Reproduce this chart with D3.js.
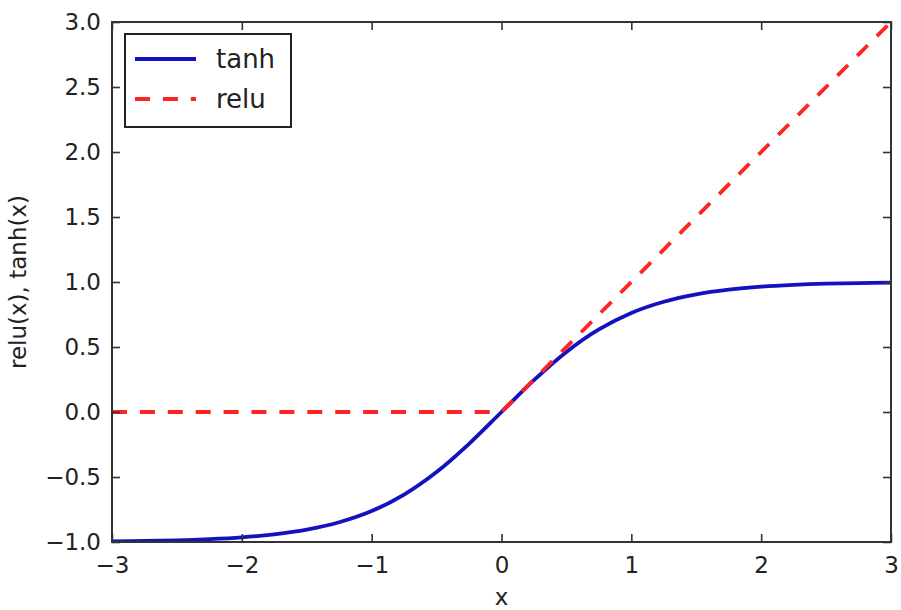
<!DOCTYPE html>
<html>
<head>
<meta charset="utf-8">
<script src="https://cdn.jsdelivr.net/npm/d3@7"></script>
<style>
  html, body { margin: 0; padding: 0; background: #fff; }
  svg { display: block; }
  text { font-family: "DejaVu Sans", sans-serif; fill: #222; }
</style>
</head>
<body>
<svg id="chart" width="901" height="610"></svg>
<script>
// ---- data ----
const tanhX = [-3, -2.75, -2.5, -2.25, -2, -1.75, -1.5, -1.25, -1, -0.75, -0.5, -0.25, 0,
               0.25, 0.5, 0.75, 1, 1.25, 1.5, 1.75, 2, 2.25, 2.5, 2.75, 3];
const tanhY = [-0.995, -0.992, -0.987, -0.978, -0.964, -0.941, -0.905, -0.848, -0.762, -0.635, -0.462, -0.245, 0,
               0.245, 0.462, 0.635, 0.762, 0.848, 0.905, 0.941, 0.964, 0.978, 0.987, 0.992, 0.995];
const reluX = [-3, 0, 3];
const reluY = [0, 0, 3];
const xTicks = [-3, -2, -1, 0, 1, 2, 3];
const yTicks = [-1.0, -0.5, 0.0, 0.5, 1.0, 1.5, 2.0, 2.5, 3.0];
const seriesNames = ["tanh", "relu"];

const svg = d3.select("#chart");
const L = 112, R = 891, T = 22, B = 542;
const x = d3.scaleLinear().domain([-3, 3]).range([L, R]);
const y = d3.scaleLinear().domain([-1, 3]).range([B, T]);

const fmtX = d => d3.format("d")(d).replace("-", "\u2212");
const fmtY = d => d3.format(".1f")(d).replace("-", "\u2212");
const tickLen = 8, fs = 23;

// lines (clipped to plot)
svg.append("clipPath").attr("id", "clip").append("rect")
  .attr("x", L).attr("y", T).attr("width", R - L).attr("height", B - T);
const g = svg.append("g").attr("clip-path", "url(#clip)");

const tanhData = tanhX.map((v, i) => [v, tanhY[i]]);
const reluData = reluX.map((v, i) => [v, reluY[i]]);

g.append("path")
  .attr("d", d3.line().x(d => x(d[0])).y(d => y(d[1])).curve(d3.curveCatmullRom)(tanhData))
  .attr("fill", "none").attr("stroke", "#1212c0").attr("stroke-width", 3.8);
g.append("path")
  .attr("d", d3.line().x(d => x(d[0])).y(d => y(d[1]))(reluData))
  .attr("fill", "none").attr("stroke", "#ff2424").attr("stroke-width", 3.8)
  .attr("stroke-dasharray", "15,12.9");

// axes with inside ticks
const axB = svg.append("g").attr("transform", `translate(0,${B})`)
  .call(d3.axisBottom(x).tickValues(xTicks).tickFormat(fmtX).tickSizeInner(-tickLen).tickSizeOuter(0).tickPadding(15));
const axT = svg.append("g").attr("transform", `translate(0,${T})`)
  .call(d3.axisTop(x).tickValues(xTicks).tickFormat("").tickSizeInner(-tickLen).tickSizeOuter(0));
const axL = svg.append("g").attr("transform", `translate(${L},0)`)
  .call(d3.axisLeft(y).tickValues(yTicks).tickFormat(fmtY).tickSizeInner(-tickLen).tickSizeOuter(0).tickPadding(11));
const axR = svg.append("g").attr("transform", `translate(${R},0)`)
  .call(d3.axisRight(y).tickValues(yTicks).tickFormat("").tickSizeInner(-tickLen).tickSizeOuter(0));
[axB, axT, axL, axR].forEach(a => {
  a.select(".domain").remove();
  a.selectAll(".tick line").attr("stroke", "#333").attr("stroke-width", 1.6);
  a.selectAll(".tick text").attr("font-size", fs).attr("font-family", "DejaVu Sans").attr("fill", "#222");
});

// frame
svg.append("rect").attr("x", L).attr("y", T).attr("width", R - L).attr("height", B - T)
  .attr("fill", "none").attr("stroke", "#333").attr("stroke-width", 2);

// axis labels
svg.append("text").attr("x", (L + R) / 2).attr("y", 605).attr("text-anchor", "middle")
  .attr("font-size", fs).text("x");
svg.append("text").attr("transform", `translate(26,${(T + B) / 2}) rotate(-90)`)
  .attr("text-anchor", "middle").attr("font-size", fs).text("relu(x), tanh(x)");

// legend
const lg = svg.append("g");
lg.append("rect").attr("x", 125).attr("y", 34).attr("width", 166).attr("height", 93)
  .attr("fill", "#fff").attr("stroke", "#222").attr("stroke-width", 2);
const styles = [{c: "#1212c0", dash: null}, {c: "#ff2424", dash: "15,12.9"}];
seriesNames.forEach((n, i) => {
  const yy = 59 + i * 40;
  lg.append("line").attr("x1", 135).attr("x2", 196).attr("y1", yy).attr("y2", yy)
    .attr("stroke", styles[i].c).attr("stroke-width", 3.8)
    .attr("stroke-dasharray", styles[i].dash);
  lg.append("text").attr("x", 216).attr("y", yy + 9).attr("font-size", 26).text(n);
});
</script>
</body>
</html>
